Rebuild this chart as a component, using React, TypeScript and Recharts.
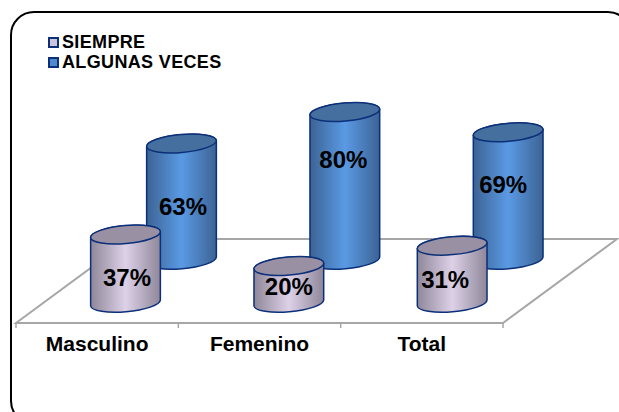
import { Bar, BarChart, Legend, LabelList, XAxis, YAxis, usePlotArea } from "recharts"

const categories = ["Masculino", "Femenino", "Total"]
const siempre = [37, 20, 31]
const algunasVeces = [63, 80, 69]

const data = categories.map((name, i) => ({ name, siempre: siempre[i], algunasVeces: algunasVeces[i] }))

const WIDTH = 619
const HEIGHT = 412
const FLOOR_DX = 114
const FLOOR_DY = 84
const LINE = "#a6a6a6"
const FONT = "'Liberation Sans', Arial, sans-serif"

// the depth offsets put each series on its own row of the fake 3D floor
const ROWS = {
  siempre: { dx: 27.5, dy: -20, stops: ["#8f8799", "#ddd1e8", "#8f8799"], top: "#9a90a3", swatch: "#cdc4dc" },
  algunasVeces: { dx: 83.5, dy: -63, stops: ["#3c6394", "#5a9ae4", "#3c6394"], top: "#456f9f", swatch: "#4f8ad0" },
}

const labelNudge = {
  siempre: [[1.5, 9], [0, 2], [-7, 5]],
  algunasVeces: [[1.5, 5], [-1.5, -27], [-5, -12]],
}

function cylinder(row: keyof typeof ROWS) {
  return (props: any) => {
    const { dx, dy, top } = ROWS[row]
    const rx = props.width / 2
    const cx = props.x + rx + dx
    const y0 = props.y + dy
    const y1 = y0 + props.height
    const ex = rx * 0.996
    const ey = 3
    const arc = `A${rx} 9 -5 0 0`
    const body = `M${cx - ex} ${y0 + ey} L${cx - ex} ${y1 + ey} ${arc} ${cx + ex} ${y1 - ey} L${cx + ex} ${y0 - ey} ${arc} ${cx - ex} ${y0 + ey}Z`
    return (
      <g>
        <path d={body} fill={`url(#grad-${row})`} stroke="#0b2f78" strokeWidth={1.5} />
        <ellipse cx={cx} cy={y0} rx={rx} ry={9} transform={`rotate(-5 ${cx} ${y0})`} fill={top} stroke="#0b2f78" strokeWidth={1.5} />
      </g>
    )
  }
}

function barLabel(row: keyof typeof ROWS) {
  return (props: any) => {
    const { dx, dy } = ROWS[row]
    const [nx, ny] = labelNudge[row][props.index]
    return (
      <text
        x={props.x + props.width / 2 + dx + nx}
        y={props.y + props.height / 2 + dy + ny}
        textAnchor="middle"
        dominantBaseline="central"
        fontFamily={FONT}
        fontWeight="bold"
        fontSize={24}
        fill="#000"
      >
        {props.value}%
      </text>
    )
  }
}

function Floor() {
  const plot = usePlotArea()
  if (!plot) return null
  const left = plot.x
  const right = plot.x + plot.width
  const base = plot.y + plot.height
  const pts = [
    [left, base],
    [left + FLOOR_DX, base - FLOOR_DY],
    [right + FLOOR_DX, base - FLOOR_DY],
    [right, base],
  ]
  // ticks sit on the category boundaries, not on the centres
  const tickXs = [0, 1, 2, 3].map((i) => left + (i * plot.width) / categories.length)
  return (
    <g>
      <defs>
        {(Object.keys(ROWS) as (keyof typeof ROWS)[]).map((row) => (
          <linearGradient key={row} id={`grad-${row}`} x1="0" y1="0" x2="1" y2="0">
            <stop offset="0" stopColor={ROWS[row].stops[0]} />
            <stop offset="0.5" stopColor={ROWS[row].stops[1]} />
            <stop offset="1" stopColor={ROWS[row].stops[2]} />
          </linearGradient>
        ))}
      </defs>
      <polygon points={pts.map((p) => p.join(",")).join(" ")} fill="none" stroke={LINE} strokeWidth={2} />
      {tickXs.map((x) => (
        <line key={x} x1={x} x2={x} y1={base} y2={base + 5} stroke={LINE} strokeWidth={1.5} />
      ))}
    </g>
  )
}

function LegendBox() {
  const items = [
    { label: "SIEMPRE", color: ROWS.siempre.swatch },
    { label: "ALGUNAS VECES", color: ROWS.algunasVeces.swatch },
  ]
  return (
    <div style={{ fontFamily: FONT, fontWeight: "bold", fontSize: 18, letterSpacing: 0.35, lineHeight: "20px", color: "#000", whiteSpace: "nowrap" }}>
      {items.map((it) => (
        <div key={it.label} style={{ display: "flex", alignItems: "center" }}>
          <span
            style={{
              width: 11,
              height: 11,
              marginRight: 3,
              boxSizing: "border-box",
              background: it.color,
              border: "2px solid #0b2f78",
              display: "inline-block",
            }}
          />
          {it.label}
        </div>
      ))}
    </div>
  )
}

export default function App() {
  return (
    <div style={{ position: "absolute", left: 0, top: 0, width: WIDTH, height: HEIGHT, overflow: "hidden", background: "#fff" }}>
      <div
        style={{
          position: "absolute",
          left: 10,
          top: 11,
          width: 622,
          height: 414,
          border: "2px solid #000",
          borderRadius: 24,
          boxSizing: "border-box",
        }}
      />
      <BarChart
        width={WIDTH}
        height={HEIGHT}
        data={data}
        barSize={70}
        barGap={-70}
        margin={{ top: 138, right: 116, bottom: 59, left: 16 }}
        style={{ position: "absolute", left: 0, top: 0 }}
      >
        <Floor />
        <XAxis
          dataKey="name"
          stroke={LINE}
          strokeWidth={2}
          tickLine={false}
          tickSize={5}
          interval={0}
          tick={{ fill: "#000", fontFamily: FONT, fontWeight: "bold", fontSize: 21 }}
          tickMargin={8}
        />
        {/* bars are spaced a little wider than the axis labels in the original */}
        <XAxis xAxisId="bars" dataKey="name" hide padding={{ left: 0, right: -3 }} />
        <YAxis hide domain={[0, 100]} />
        <Legend content={<LegendBox />} layout="horizontal" align="center" verticalAlign="middle" wrapperStyle={{ left: 48, top: 32, width: 200 }} />
        <Bar xAxisId="bars" dataKey="algunasVeces" name="ALGUNAS VECES" shape={cylinder("algunasVeces")} isAnimationActive={false}>
          <LabelList dataKey="algunasVeces" content={barLabel("algunasVeces")} />
        </Bar>
        <Bar xAxisId="bars" dataKey="siempre" name="SIEMPRE" shape={cylinder("siempre")} isAnimationActive={false}>
          <LabelList dataKey="siempre" content={barLabel("siempre")} />
        </Bar>
      </BarChart>
    </div>
  )
}
